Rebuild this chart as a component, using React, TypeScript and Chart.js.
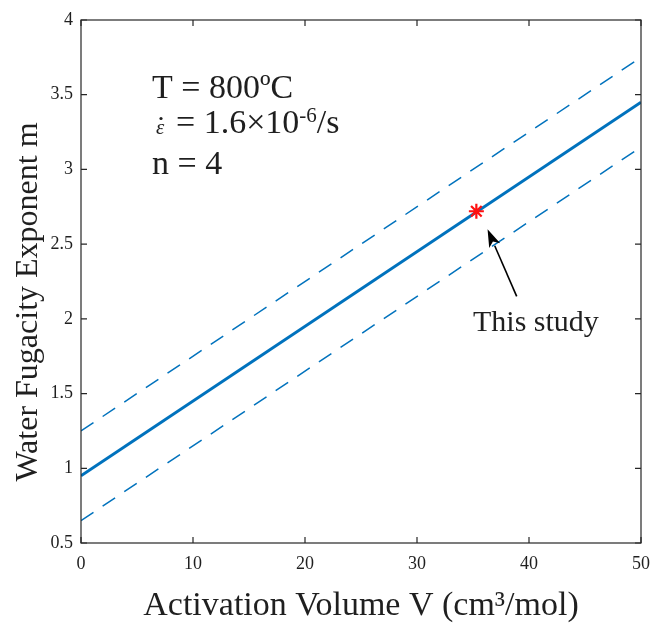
import React, { useEffect, useRef } from 'react';
import { Chart, registerables } from 'chart.js';

Chart.register(...registerables);

// ---- data ----
const activationVolume = [0, 50];
const exponentFit = [0.95, 3.45];
const exponentUpper = [1.25, 3.75];
const exponentLower = [0.65, 3.15];
const studyVolume = [35.3];
const studyExponent = [2.72];
const arrowVolume = [38.9, 36.3]; // tail, head
const arrowExponent = [2.15, 2.6];
const xTickValues = [0, 10, 20, 30, 40, 50];
const yTickValues = [0.5, 1, 1.5, 2, 2.5, 3, 3.5, 4];
const xTitle = 'Activation Volume V (cm\u00B3/mol)';
const yTitle = 'Water Fugacity Exponent m';
const studyLabel = 'This study';

const SERIF = "'Liberation Serif', 'Times New Roman', serif";
const INK = '#1f1f1f';
const BLUE = '#0072BD';

const pairs = (xs: number[], ys: number[]) => xs.map((x, i) => ({ x, y: ys[i] }));

const decorPlugin = {
  id: 'decor',
  afterDatasetsDraw(chart: any) {
    const { ctx, chartArea: a, scales } = chart;
    const xs = scales.x;
    const ys = scales.y;
    ctx.save();
    // frame
    ctx.strokeStyle = '#262626';
    ctx.lineWidth = 1.2;
    ctx.strokeRect(a.left, a.top, a.right - a.left, a.bottom - a.top);
    // inward ticks on all four sides
    const tl = 6;
    ctx.beginPath();
    xTickValues.forEach((v) => {
      const px = xs.getPixelForValue(v);
      ctx.moveTo(px, a.bottom);
      ctx.lineTo(px, a.bottom - tl);
      ctx.moveTo(px, a.top);
      ctx.lineTo(px, a.top + tl);
    });
    yTickValues.forEach((v) => {
      const py = ys.getPixelForValue(v);
      ctx.moveTo(a.left, py);
      ctx.lineTo(a.left + tl, py);
      ctx.moveTo(a.right, py);
      ctx.lineTo(a.right - tl, py);
    });
    ctx.stroke();

    // arrow
    const tx = xs.getPixelForValue(arrowVolume[0]);
    const ty = ys.getPixelForValue(arrowExponent[0]);
    const hx = xs.getPixelForValue(arrowVolume[1]);
    const hy = ys.getPixelForValue(arrowExponent[1]);
    const ang = Math.atan2(hy - ty, hx - tx);
    const headLen = 18;
    const headHalf = 6;
    const bx = hx - headLen * Math.cos(ang);
    const by = hy - headLen * Math.sin(ang);
    ctx.strokeStyle = '#000';
    ctx.fillStyle = '#000';
    ctx.lineWidth = 1.6;
    ctx.beginPath();
    ctx.moveTo(tx, ty);
    ctx.lineTo(bx, by);
    ctx.stroke();
    ctx.beginPath();
    ctx.moveTo(hx, hy);
    ctx.lineTo(bx + headHalf * Math.sin(ang), by - headHalf * Math.cos(ang));
    ctx.lineTo(bx + headLen * 0.25 * Math.cos(ang), by + headLen * 0.25 * Math.sin(ang));
    ctx.lineTo(bx - headHalf * Math.sin(ang), by + headHalf * Math.cos(ang));
    ctx.closePath();
    ctx.fill();

    // "This study" label
    ctx.fillStyle = INK;
    ctx.textBaseline = 'alphabetic';
    ctx.textAlign = 'left';
    ctx.font = `30px ${SERIF}`;
    ctx.fillText(studyLabel, 473, 331);

    // conditions block
    const x0 = 152;
    ctx.font = `34px ${SERIF}`;
    ctx.fillText('T = 800\u00BAC', x0, 98);
    // strain rate line: small italic epsilon with dot
    ctx.font = `italic 21px ${SERIF}`;
    ctx.fillText('\u03B5', 156, 134);
    ctx.beginPath();
    ctx.arc(161, 118.5, 1.6, 0, Math.PI * 2);
    ctx.fill();
    let cx = 176;
    ctx.font = `34px ${SERIF}`;
    const mid = '= 1.6\u00D710';
    ctx.fillText(mid, cx, 133);
    cx += ctx.measureText(mid).width;
    ctx.font = `21px ${SERIF}`;
    ctx.fillText('-6', cx, 122);
    cx += ctx.measureText('-6').width;
    ctx.font = `34px ${SERIF}`;
    ctx.fillText('/s', cx, 133);
    ctx.fillText('n = 4', x0, 174);

    // y axis title
    ctx.save();
    ctx.translate(37, 302);
    ctx.rotate(-Math.PI / 2);
    ctx.textAlign = 'center';
    ctx.textBaseline = 'alphabetic';
    ctx.font = `32px ${SERIF}`;
    ctx.fillText(yTitle, 0, 0);
    ctx.restore();

    ctx.restore();
  },
};

export default function App() {
  const canvasRef = useRef<HTMLCanvasElement | null>(null);

  useEffect(() => {
    const canvas = canvasRef.current;
    if (!canvas) return;
    const chart = new Chart(canvas, {
      type: 'line',
      data: {
        datasets: [
          {
            label: 'This study',
            data: pairs(studyVolume, studyExponent),
            showLine: false,
            pointStyle: 'star',
            pointRadius: 7.5,
            pointBorderWidth: 2.2,
            borderColor: '#ff1010',
            backgroundColor: '#ff1010',
            order: 0,
          },
          {
            label: 'fit',
            data: pairs(activationVolume, exponentFit),
            borderColor: BLUE,
            borderWidth: 3,
            pointRadius: 0,
            order: 1,
          },
          {
            label: 'upper',
            data: pairs(activationVolume, exponentUpper),
            borderColor: BLUE,
            borderWidth: 1.5,
            borderDash: [15, 11],
            pointRadius: 0,
            order: 1,
          },
          {
            label: 'lower',
            data: pairs(activationVolume, exponentLower),
            borderColor: BLUE,
            borderWidth: 1.5,
            borderDash: [15, 11],
            pointRadius: 0,
            order: 1,
          },
        ],
      },
      options: {
        animation: false,
        responsive: false,
        maintainAspectRatio: false,
        layout: { padding: { top: 20, right: 10, left: 0, bottom: 0 } },
        plugins: {
          legend: { display: false },
          tooltip: { enabled: false },
        },
        scales: {
          x: {
            type: 'linear',
            min: 0,
            max: 50,
            grid: { display: false, drawTicks: false },
            border: { display: false },
            ticks: {
              stepSize: 10,
              padding: 10,
              color: INK,
              font: { family: SERIF, size: 18 },
              callback: (v: any) => `${+v}`,
            },
            title: {
              display: true,
              text: xTitle,
              color: INK,
              font: { family: SERIF, size: 34, lineHeight: 1 },
              padding: { top: 0, bottom: 3 },
            },
            afterFit: (s: any) => {
              s.height = 83;
              s.paddingLeft = 0;
              s.paddingRight = 0;
            },
          },
          y: {
            type: 'linear',
            min: 0.5,
            max: 4,
            grid: { display: false, drawTicks: false },
            border: { display: false },
            ticks: {
              stepSize: 0.5,
              padding: 8,
              color: INK,
              font: { family: SERIF, size: 18 },
              callback: (v: any) => `${+v}`,
            },
            afterFit: (s: any) => {
              s.width = 81;
              s.paddingTop = 0;
              s.paddingBottom = 0;
            },
          },
        },
      },
      plugins: [decorPlugin],
    } as any);
    return () => chart.destroy();
  }, []);

  return (
    <div style={{ position: 'absolute', left: 0, top: 0, width: 651, height: 626, background: '#fff' }}>
      <canvas ref={canvasRef} width={651} height={626} style={{ display: 'block' }} />
    </div>
  );
}
